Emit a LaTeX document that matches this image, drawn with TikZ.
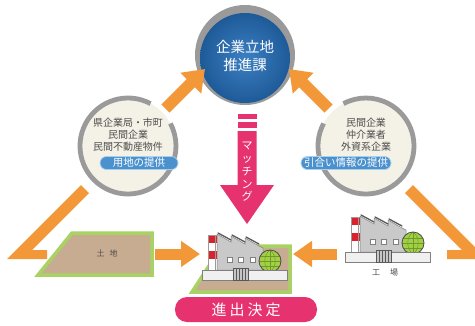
\documentclass[tikz,border=0pt]{standalone}
\usepackage{fontspec}
\newfontfamily\jp{Noto Sans CJK JP}
\newfontfamily\jpwide[LetterSpace=20]{Noto Sans CJK JP}
\usetikzlibrary{arrows.meta,calc}

\definecolor{flow}{HTML}{F39838}
\definecolor{hubouter}{HTML}{1E5A98}
\definecolor{hubinner}{HTML}{3C80C2}
\definecolor{ringgray}{HTML}{9A9A9A}
\definecolor{cream}{HTML}{F4F1E6}
\definecolor{tagblue}{HTML}{4B91CD}
\definecolor{tagedge}{HTML}{A8CFEC}
\definecolor{match}{HTML}{E6326E}
\definecolor{soil}{HTML}{C8AC91}
\definecolor{grass}{HTML}{A9D264}
\definecolor{ink}{HTML}{4D4D4D}
\definecolor{chimred}{HTML}{D8232C}
\definecolor{wallgray}{HTML}{BDBDBD}
\definecolor{roofgray}{HTML}{C9C9C9}
\definecolor{domegreen}{HTML}{A3CF45}
\definecolor{domeline}{HTML}{6E9A2A}

\tikzset{
  ringline/.style={draw=ringgray, line width=4.8pt},
  bigflow/.style={draw=flow, line width=11.5pt, -{Triangle[width=28pt,length=20pt]}},
  smallflow/.style={draw=flow, line width=11pt, -{Triangle[width=25pt,length=19pt]}},
  tag/.style={fill=tagblue, draw=tagedge, line width=0.8pt, rounded corners=6.5pt,
    text=white, font=\jp\fontsize{10.5}{12}\selectfont,
    minimum height=13pt, inner ysep=0pt, inner xsep=2pt},
  circtext/.style={text=ink, font=\jp\fontsize{10}{12}\selectfont, align=center},
  plot/.style={fill=soil, draw=grass, line width=3.5pt, line join=miter},
  smalllabel/.style={text=ink, font=\jp\fontsize{8}{9}\selectfont},
  factory/.pic={
    % chimney with red and white bands
    \fill[white] (6,10) rectangle (15,45);
    \fill[chimred] (6,37) rectangle (15,45);
    \fill[chimred] (6,21) rectangle (15,29);
    \draw[ringgray, line width=0.5pt] (6,10) rectangle (15,45);
    \draw[ringgray, line width=0.5pt] (13,10) -- (13,45);
    % building body and sawtooth roof
    \fill[wallgray] (15,10) rectangle (61,30);
    \filldraw[fill=roofgray, draw=gray, line width=0.5pt]
      (15,10) -- (15,46) -- (29,38) -- (29,44) -- (43,36) -- (43,42)
      -- (57,34) -- (61,32) -- (61,10) -- cycle;
    \draw[gray!70!black, line width=1.3pt, line cap=round]
      (16,47) -- (29,40) (30,45) -- (43,38) (44,43) -- (57,36);
    % windows
    \foreach \wx in {25,36,48}
      \filldraw[fill=white, draw=gray, line width=0.4pt] (\wx,18) rectangle (\wx+5,23);
    % spherical tank
    \begin{scope}
      \clip (68,19) circle[radius=11];
      \fill[domegreen] (68,19) circle[radius=11];
      \draw[domeline, line width=0.5pt] (57,19) -- (79,19) (57,24) -- (79,24) (57,14) -- (79,14);
      \draw[domeline, line width=0.5pt] (68,30) -- (68,8);
      \draw[domeline, line width=0.5pt] (68,30) .. controls (61,25) and (61,13) .. (68,8);
      \draw[domeline, line width=0.5pt] (68,30) .. controls (75,25) and (75,13) .. (68,8);
    \end{scope}
    \draw[gray!60!black, line width=0.8pt] (68,19) circle[radius=11];
    % front wall and gate
    \filldraw[fill=gray!12, draw=gray, line width=0.5pt] (0,0) rectangle (85,10);
    \filldraw[fill=gray!45, draw=gray!70!black, line width=0.5pt] (31,0) rectangle (46,12);
    \foreach \gx in {34,37,40,43}
      \draw[gray!70!black, line width=0.4pt] (\gx,0) -- (\gx,12);
  }
}

\begin{document}
\begin{tikzpicture}[x=1pt, y=1pt]
  \fill[white] (0,0) rectangle (475,-325);
  \useasboundingbox (0,0) rectangle (475,-325);

  % anchor points
  \coordinate (L) at (128,-146);
  \coordinate (R) at (366,-146);

  % lower orange chevrons
  \fill[flow] (7,-259) -- (47,-259) -- (47,-250) -- (32,-250) -- (89,-193) -- (81,-185) -- cycle;
  \fill[flow] (487,-259) -- (447,-259) -- (447,-250) -- (462,-250) -- (405,-193) -- (413,-185) -- cycle;

  % side circles
  \fill[cream] (L) circle[radius=48];
  \draw[ringline] ([shift={(62:48)}]L) arc[start angle=62, end angle=388, radius=48];
  \fill[cream] (R) circle[radius=48];
  \draw[ringline] ([shift={(152:48)}]R) arc[start angle=152, end angle=478, radius=48];

  \node[circtext] (ltext) at (128,-135) {県企業局・市町\\民間企業\\民間不動産物件};
  \node[tag, minimum width=78pt] (ltag) at (139,-163) {用地の提供};
  \node[circtext] (rtext) at (366,-134.5) {民間企業\\仲介業者\\外資系企業};
  \node[tag, minimum width=90pt] (rtag) at (346,-163) {引合い情報の提供};

  % central hub
  \fill[ringgray] (245,-55) circle[radius=50];
  \shade[inner color=hubinner, outer color=hubouter] (245,-58) circle[radius=45];
  \node[text=white, font=\jp\fontsize{14.5}{18}\selectfont, align=center] (hub) at (245,-56) {企業立地\\推進課};

  % upper orange arrows into the hub
  \coordinate (lstart) at (165.5,-108.5);
  \coordinate (ltip) at (205,-69);
  \coordinate (rstart) at (328.5,-108.5);
  \coordinate (rtip) at (289,-69);
  \draw[bigflow] (lstart) -- (ltip);
  \draw[bigflow] (rstart) -- (rtip);

  % matching arrow
  \fill[match] (237.5,-114) rectangle (256.5,-119);
  \fill[match] (237.5,-122) rectangle (256.5,-128);
  \fill[match] (237.5,-131) -- (256.5,-131) -- (256.5,-185) -- (274,-185)
    -- (247,-224) -- (220,-185) -- (237.5,-185) -- cycle;
  \node[text=white, font=\jp\fontsize{11}{12.8}\selectfont, align=center, inner sep=0pt] (match) at (247,-172)
    {マ\\ッ\\チ\\ン\\グ};

  % land parcel
  \filldraw[plot] (72,-233) -- (152,-233) -- (152,-275) -- (38,-275) -- cycle;
  \node[smalllabel] (land) at (107,-253) {土\hspace{5pt}地};

  % site under the new factory
  \filldraw[plot] (222,-246) -- (290,-246) -- (290,-292) -- (192,-292) -- cycle;
  \pic at (202,-280) {factory};

  % existing factory
  \pic at (345,-262) {factory};
  \node[smalllabel] (plant) at (385,-273) {工\hspace{10pt}場};

  % horizontal arrows towards the site
  \coordinate (a1) at (155,-254);
  \coordinate (a2) at (200,-254);
  \coordinate (b1) at (337,-254);
  \coordinate (b2) at (293,-254);
  \draw[smallflow] (a1) -- (a2);
  \draw[smallflow] (b1) -- (b2);

  % decision banner
  \node[fill=match, rounded corners=12pt, minimum width=142pt, minimum height=25pt,
        text=white, font=\jpwide\fontsize{15}{18}\selectfont, inner sep=0pt] (decision) at (246,-309.5) {進出決定};
\end{tikzpicture}
\end{document}
